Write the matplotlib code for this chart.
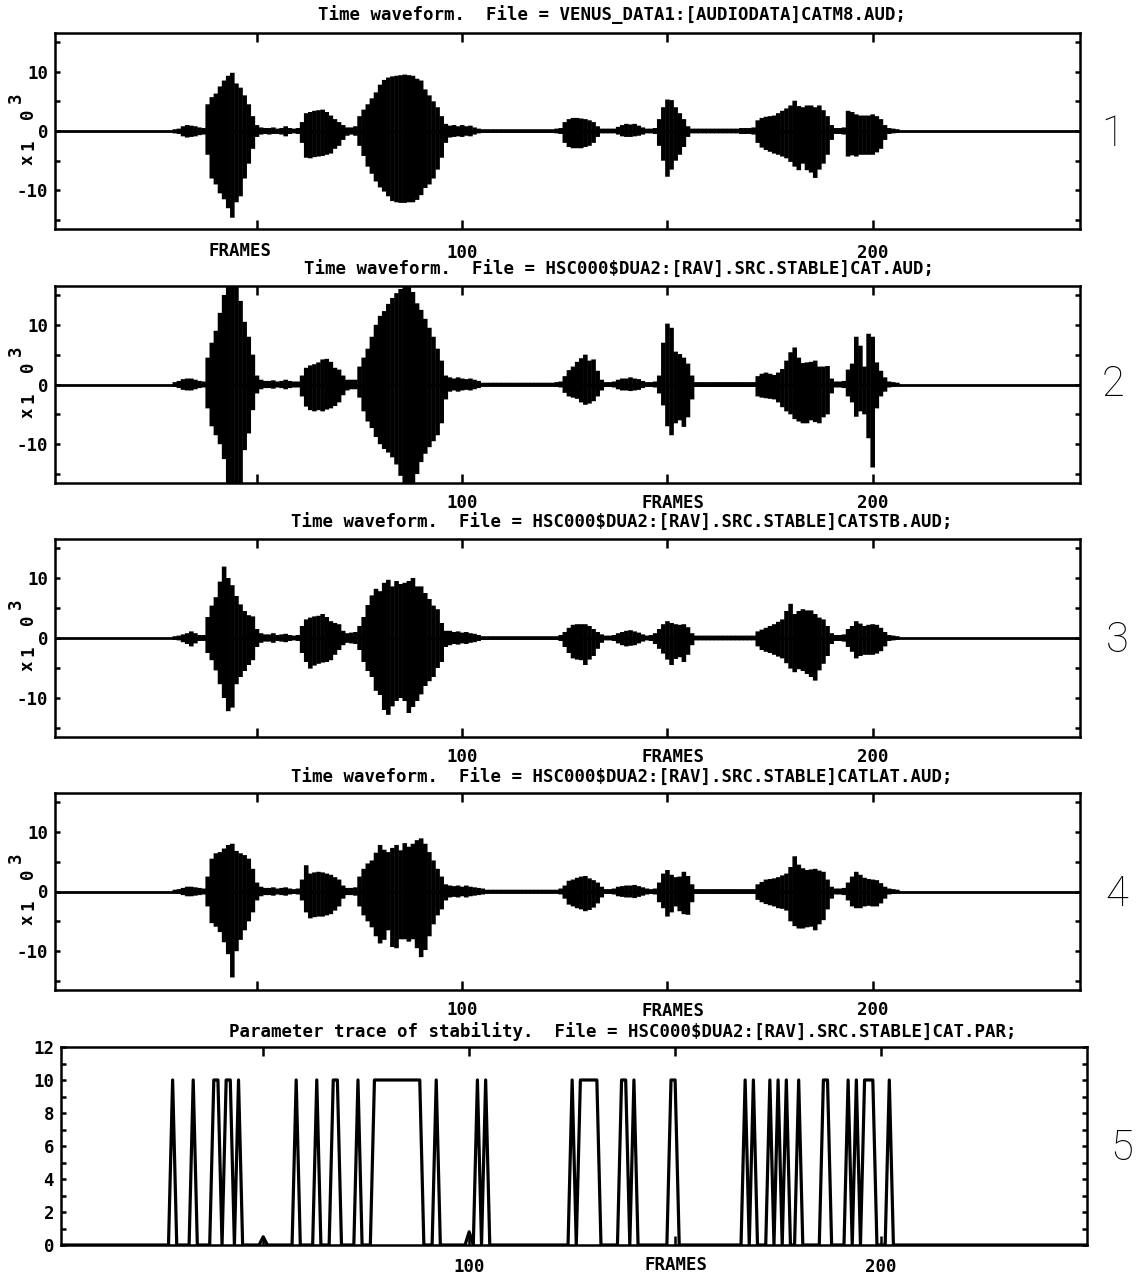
import numpy as np
import matplotlib
matplotlib.use("Agg")
import matplotlib.pyplot as plt

# ---------------- data ----------------
wave_start = 30  # first frame of the stored envelopes (frames 30..206)

p1_upper = [0.3, 0.4, 0.8, 1.0, 0.9, 0.8, 0.6, 0.5, 4.5, 5.7,
            6.3, 7.5, 8.5, 9.3, 9.8, 8.0, 7.3, 6.0, 4.5, 2.5,
            1.0, 0.6, 0.5, 0.5, 0.6, 0.4, 0.5, 0.8, 0.5, 0.4,
            0.5, 1.5, 3.0, 3.2, 3.4, 3.5, 3.6, 3.2, 2.6, 2.0,
            1.5, 1.0, 0.6, 0.6, 0.8, 2.5, 3.6, 4.5, 5.5, 6.5,
            7.8, 8.6, 9.0, 9.2, 9.3, 9.4, 9.5, 9.4, 9.3, 8.8,
            8.5, 7.0, 6.0, 5.0, 4.0, 2.5, 1.2, 0.9, 1.0, 0.8,
            1.0, 0.8, 0.9, 0.6, 0.4, 0.3, 0.3, 0.3, 0.3, 0.3,
            0.3, 0.3, 0.3, 0.3, 0.3, 0.3, 0.3, 0.3, 0.3, 0.3,
            0.3, 0.3, 0.3, 0.4, 0.5, 1.5, 2.0, 2.2, 2.2, 2.1,
            2.0, 1.8, 1.5, 0.8, 0.4, 0.4, 0.4, 0.4, 0.7, 1.0,
            1.2, 1.1, 1.2, 0.9, 0.6, 0.4, 0.4, 0.5, 2.0, 4.0,
            5.3, 5.2, 4.0, 3.0, 2.0, 0.8, 0.4, 0.4, 0.4, 0.4,
            0.4, 0.4, 0.4, 0.4, 0.4, 0.4, 0.4, 0.4, 0.5, 0.5,
            0.5, 0.6, 1.8, 2.2, 2.4, 2.5, 2.6, 3.0, 3.4, 3.8,
            4.3, 5.1, 4.2, 4.0, 4.3, 4.3, 4.0, 4.3, 3.5, 2.5,
            1.0, 0.5, 0.5, 0.6, 3.4, 3.2, 2.8, 2.6, 2.6, 2.6,
            2.8, 2.5, 2.0, 1.0, 0.5, 0.4, 0.3]
p1_lower = [-0.4, -0.5, -0.9, -1.1, -1.0, -0.9, -0.7, -0.6, -4.0, -8.0,
            -9.0, -10.5, -11.5, -13.0, -14.6, -12.0, -11.0, -8.0, -5.5, -3.0,
            -1.0, -0.6, -0.5, -0.6, -0.5, -0.5, -0.6, -0.9, -0.5, -0.4,
            -0.5, -2.0, -4.5, -4.6, -4.4, -4.3, -4.2, -4.0, -3.8, -3.0,
            -2.5, -1.5, -0.8, -0.6, -0.8, -2.5, -4.2, -6.0, -7.2, -8.5,
            -9.5, -10.2, -11.0, -11.8, -12.0, -12.1, -12.1, -12.0, -12.0, -11.6,
            -10.8, -9.6, -9.0, -8.0, -6.5, -4.5, -2.0, -1.1, -1.0, -0.9,
            -1.0, -0.8, -0.9, -0.6, -0.4, -0.3, -0.3, -0.3, -0.3, -0.3,
            -0.3, -0.3, -0.3, -0.3, -0.3, -0.3, -0.3, -0.3, -0.3, -0.3,
            -0.3, -0.3, -0.3, -0.4, -0.5, -2.0, -2.7, -2.9, -2.9, -2.9,
            -2.7, -2.5, -2.0, -1.0, -0.4, -0.4, -0.4, -0.4, -0.6, -0.9,
            -1.0, -1.0, -0.9, -0.8, -0.6, -0.4, -0.4, -0.5, -2.5, -5.0,
            -7.7, -6.5, -5.0, -4.0, -2.7, -1.0, -0.4, -0.4, -0.4, -0.4,
            -0.4, -0.4, -0.4, -0.4, -0.4, -0.4, -0.4, -0.4, -0.5, -0.5,
            -0.5, -0.6, -2.0, -2.8, -3.2, -3.5, -3.8, -4.0, -4.3, -4.6,
            -5.2, -6.0, -6.6, -5.5, -6.6, -7.0, -7.9, -6.5, -5.5, -4.0,
            -1.5, -0.5, -0.5, -0.6, -4.3, -4.1, -4.3, -4.0, -4.0, -4.0,
            -4.0, -3.6, -3.0, -1.5, -0.5, -0.4, -0.3]

p2_upper = [0.4, 0.6, 0.9, 1.0, 1.0, 0.8, 0.6, 0.5, 4.5, 7.0,
            9.0, 12.0, 15.0, 16.5, 16.5, 16.5, 14.0, 10.5, 8.0, 5.0,
            1.5, 0.8, 0.6, 0.6, 0.7, 0.5, 0.6, 0.8, 0.6, 0.5,
            0.5, 1.5, 2.8, 3.2, 3.4, 3.7, 4.2, 4.3, 3.8, 2.8,
            2.5, 1.5, 0.8, 0.8, 0.8, 3.0, 4.5, 6.0, 8.0, 10.0,
            11.5, 12.3, 13.5, 14.5, 15.3, 16.0, 16.5, 16.5, 15.5, 13.6,
            12.5, 11.0, 9.5, 8.0, 6.0, 4.0, 1.5, 1.2, 1.0, 1.2,
            1.0, 0.9, 1.0, 0.8, 0.6, 0.3, 0.3, 0.3, 0.3, 0.3,
            0.3, 0.3, 0.3, 0.3, 0.3, 0.3, 0.3, 0.3, 0.3, 0.3,
            0.3, 0.3, 0.3, 0.4, 0.5, 1.4, 2.4, 3.0, 3.8, 4.4,
            5.0, 4.0, 4.2, 2.3, 0.8, 0.4, 0.4, 0.5, 0.8, 1.0,
            1.0, 1.2, 1.0, 0.9, 0.6, 0.4, 0.4, 0.5, 1.5, 7.0,
            10.2, 9.5, 5.5, 5.1, 4.5, 3.5, 1.5, 0.4, 0.4, 0.4,
            0.4, 0.4, 0.4, 0.4, 0.4, 0.4, 0.4, 0.4, 0.4, 0.4,
            0.4, 0.4, 1.4, 1.8, 2.0, 1.8, 1.6, 2.0, 2.6, 4.0,
            5.4, 6.2, 4.5, 3.6, 3.7, 3.8, 4.0, 3.0, 3.0, 3.1,
            1.0, 0.5, 0.5, 0.6, 2.5, 3.5, 8.0, 6.5, 3.0, 8.5,
            8.0, 3.7, 2.3, 1.2, 0.5, 0.4, 0.3]
p2_lower = [-0.4, -0.6, -0.9, -1.0, -1.0, -0.8, -0.6, -0.5, -4.0, -7.0,
            -8.5, -10.0, -12.5, -16.5, -16.5, -16.5, -16.5, -11.0, -8.2, -4.3,
            -1.5, -0.8, -0.6, -0.6, -0.7, -0.5, -0.6, -0.8, -0.6, -0.5,
            -0.5, -2.0, -3.7, -4.3, -4.5, -4.3, -4.5, -4.2, -4.0, -3.6,
            -3.0, -1.8, -1.0, -0.8, -0.8, -2.2, -4.5, -6.2, -7.3, -8.8,
            -10.0, -10.8, -11.4, -12.2, -13.4, -15.3, -16.5, -16.5, -16.5, -15.0,
            -13.0, -11.6, -10.5, -9.5, -8.5, -6.5, -2.5, -1.2, -1.0, -1.2,
            -1.0, -0.9, -1.0, -0.8, -0.6, -0.3, -0.3, -0.3, -0.3, -0.3,
            -0.3, -0.3, -0.3, -0.3, -0.3, -0.3, -0.3, -0.3, -0.3, -0.3,
            -0.3, -0.3, -0.3, -0.4, -0.5, -1.4, -2.0, -2.2, -2.4, -3.0,
            -3.4, -3.2, -2.8, -2.0, -1.0, -0.4, -0.4, -0.5, -0.8, -1.0,
            -1.0, -1.1, -1.0, -0.9, -0.6, -0.4, -0.4, -0.5, -1.5, -3.5,
            -7.0, -8.5, -6.5, -6.0, -7.1, -5.5, -2.5, -0.4, -0.4, -0.4,
            -0.4, -0.4, -0.4, -0.4, -0.4, -0.4, -0.4, -0.4, -0.4, -0.4,
            -0.4, -0.4, -2.0, -2.2, -2.3, -2.4, -2.5, -3.0, -3.8, -4.5,
            -5.0, -5.8, -6.2, -6.5, -6.5, -6.0, -6.3, -6.5, -5.5, -5.0,
            -1.5, -0.5, -0.5, -0.6, -2.0, -3.0, -5.4, -4.5, -5.0, -9.0,
            -13.9, -4.0, -2.0, -1.2, -0.5, -0.4, -0.3]

p3_upper = [0.3, 0.4, 0.6, 0.8, 1.1, 0.8, 0.5, 0.5, 3.5, 5.4,
            6.8, 9.4, 11.9, 10.0, 8.8, 7.0, 5.6, 4.5, 3.8, 3.6,
            1.5, 0.8, 0.6, 0.6, 0.8, 0.5, 0.6, 0.7, 0.5, 0.4,
            0.5, 2.0, 3.1, 3.4, 3.6, 3.7, 4.0, 3.5, 2.8, 2.5,
            2.3, 1.2, 0.8, 0.9, 1.0, 2.0, 3.5, 5.5, 7.1, 8.2,
            7.8, 9.2, 9.7, 8.6, 9.5, 9.0, 9.2, 9.5, 10.0, 8.6,
            8.6, 7.5, 6.5, 5.4, 4.8, 2.5, 1.2, 1.2, 1.0, 1.1,
            0.9, 1.0, 0.8, 0.7, 0.5, 0.3, 0.3, 0.3, 0.3, 0.3,
            0.3, 0.3, 0.3, 0.3, 0.3, 0.3, 0.3, 0.3, 0.3, 0.3,
            0.3, 0.3, 0.3, 0.3, 0.5, 1.0, 1.7, 2.2, 2.3, 2.3,
            2.3, 2.0, 1.5, 1.0, 0.6, 0.4, 0.4, 0.5, 0.8, 1.0,
            1.2, 1.3, 1.1, 0.9, 0.6, 0.4, 0.5, 0.8, 1.5, 2.3,
            2.8, 2.5, 2.3, 2.2, 2.3, 1.8, 0.8, 0.4, 0.4, 0.4,
            0.4, 0.4, 0.4, 0.4, 0.4, 0.4, 0.4, 0.4, 0.4, 0.4,
            0.4, 0.4, 1.1, 1.4, 1.7, 2.0, 2.3, 2.7, 3.1, 4.5,
            5.7, 4.0, 4.5, 4.8, 4.6, 4.6, 4.0, 3.4, 3.1, 2.0,
            0.8, 0.5, 0.5, 0.6, 1.5, 2.0, 2.8, 2.4, 2.0, 2.2,
            2.3, 2.2, 1.7, 1.0, 0.5, 0.4, 0.3]
p3_lower = [-0.3, -0.4, -0.7, -1.0, -1.4, -0.9, -0.5, -0.5, -2.5, -3.7,
            -5.4, -7.7, -10.0, -12.2, -11.6, -7.7, -6.5, -5.5, -4.5, -3.7,
            -1.5, -0.8, -0.6, -0.6, -0.8, -0.5, -0.6, -0.7, -0.5, -0.4,
            -0.5, -2.5, -4.0, -5.1, -4.6, -4.3, -4.1, -4.0, -3.7, -2.8,
            -2.0, -1.2, -0.8, -0.9, -1.0, -2.0, -4.0, -5.5, -6.5, -8.8,
            -9.5, -12.0, -12.8, -11.4, -10.5, -10.0, -10.5, -12.5, -11.5, -10.5,
            -9.4, -8.0, -7.2, -6.5, -5.0, -4.0, -1.5, -1.2, -1.0, -1.1,
            -0.9, -1.0, -0.8, -0.7, -0.5, -0.3, -0.3, -0.3, -0.3, -0.3,
            -0.3, -0.3, -0.3, -0.3, -0.3, -0.3, -0.3, -0.3, -0.3, -0.3,
            -0.3, -0.3, -0.3, -0.3, -0.5, -1.5, -2.5, -3.4, -3.6, -3.7,
            -4.5, -3.6, -3.0, -1.8, -0.8, -0.4, -0.4, -0.5, -0.9, -1.2,
            -1.4, -1.3, -1.2, -0.9, -0.6, -0.4, -0.5, -1.0, -1.8, -2.6,
            -3.6, -4.5, -3.5, -3.2, -4.0, -2.8, -1.2, -0.4, -0.4, -0.4,
            -0.4, -0.4, -0.4, -0.4, -0.4, -0.4, -0.4, -0.4, -0.4, -0.4,
            -0.4, -0.4, -1.4, -2.0, -2.3, -2.5, -2.8, -3.1, -3.4, -4.2,
            -5.1, -5.7, -5.2, -5.5, -6.0, -6.5, -7.1, -5.4, -4.3, -3.0,
            -1.0, -0.5, -0.5, -0.6, -1.5, -2.3, -3.4, -3.0, -2.8, -2.8,
            -2.8, -2.6, -2.2, -1.4, -0.5, -0.4, -0.3]

p4_upper = [0.3, 0.4, 0.6, 0.8, 0.8, 0.7, 0.6, 0.5, 2.5, 5.5,
            6.4, 6.6, 7.2, 7.8, 8.0, 6.8, 6.4, 6.1, 5.5, 3.8,
            1.5, 0.8, 0.6, 0.6, 0.7, 0.5, 0.6, 0.7, 0.5, 0.4,
            0.5, 2.0, 4.4, 3.0, 3.2, 3.3, 3.2, 3.0, 2.8, 2.4,
            2.0, 1.0, 0.6, 0.6, 0.7, 2.5, 3.8, 4.7, 5.2, 6.5,
            7.8, 7.0, 6.6, 7.3, 7.8, 6.9, 8.1, 7.5, 8.0, 8.6,
            8.9, 8.0, 6.6, 5.2, 3.8, 2.5, 1.2, 1.0, 0.9, 1.0,
            0.8, 1.0, 0.8, 0.7, 0.6, 0.5, 0.3, 0.3, 0.3, 0.3,
            0.3, 0.3, 0.3, 0.3, 0.3, 0.3, 0.3, 0.3, 0.3, 0.3,
            0.3, 0.3, 0.3, 0.3, 0.5, 1.0, 1.8, 2.0, 2.3, 2.5,
            2.6, 2.2, 1.9, 1.5, 0.8, 0.4, 0.4, 0.5, 0.8, 0.9,
            1.0, 1.0, 1.1, 0.9, 0.7, 0.5, 0.4, 0.5, 1.5, 3.0,
            3.6, 2.8, 2.4, 2.5, 3.3, 2.6, 1.2, 0.4, 0.4, 0.4,
            0.4, 0.4, 0.4, 0.4, 0.4, 0.4, 0.4, 0.4, 0.4, 0.4,
            0.4, 0.4, 1.2, 1.6, 2.0, 2.1, 2.2, 2.4, 2.7, 3.0,
            4.1, 5.9, 4.5, 3.9, 3.6, 3.7, 3.8, 3.5, 3.3, 2.0,
            0.8, 0.5, 0.5, 0.6, 1.5, 2.5, 3.3, 2.8, 2.3, 2.1,
            2.0, 1.9, 1.4, 0.8, 0.5, 0.4, 0.3]
p4_lower = [-0.3, -0.4, -0.6, -0.8, -0.8, -0.7, -0.6, -0.5, -2.5, -5.3,
            -5.9, -6.8, -8.5, -10.5, -14.4, -10.0, -8.1, -6.5, -5.0, -3.5,
            -1.5, -0.8, -0.6, -0.6, -0.7, -0.5, -0.6, -0.7, -0.5, -0.4,
            -0.5, -1.5, -3.5, -4.5, -4.3, -4.2, -4.2, -4.0, -3.8, -3.2,
            -2.5, -1.2, -0.6, -0.6, -0.7, -2.5, -4.0, -5.0, -6.0, -7.5,
            -8.7, -8.1, -6.5, -9.3, -9.5, -8.0, -8.0, -8.4, -8.0, -9.5,
            -11.0, -9.8, -7.5, -5.5, -4.0, -3.0, -1.5, -1.0, -0.9, -1.0,
            -0.8, -1.0, -0.8, -0.7, -0.6, -0.5, -0.3, -0.3, -0.3, -0.3,
            -0.3, -0.3, -0.3, -0.3, -0.3, -0.3, -0.3, -0.3, -0.3, -0.3,
            -0.3, -0.3, -0.3, -0.3, -0.5, -1.2, -2.2, -2.5, -2.8, -3.0,
            -3.3, -3.1, -2.7, -2.0, -1.0, -0.4, -0.4, -0.5, -0.8, -0.9,
            -1.0, -1.0, -1.1, -0.9, -0.7, -0.5, -0.4, -0.5, -1.8, -2.8,
            -4.2, -3.5, -2.5, -3.3, -3.8, -3.9, -1.8, -0.4, -0.4, -0.4,
            -0.4, -0.4, -0.4, -0.4, -0.4, -0.4, -0.4, -0.4, -0.4, -0.4,
            -0.4, -0.4, -1.4, -1.8, -2.1, -2.3, -2.5, -2.8, -2.9, -3.2,
            -5.0, -5.8, -6.2, -6.2, -6.0, -5.9, -6.5, -5.5, -4.8, -3.0,
            -1.2, -0.5, -0.5, -0.6, -1.5, -2.5, -2.8, -2.8, -2.5, -2.4,
            -2.5, -2.5, -2.0, -1.2, -0.5, -0.4, -0.3]

# stability parameter: frames where the trace is not zero, and its values there
par_frames = [28, 33, 38, 39, 41, 42, 44, 50, 58, 63, 67, 68, 73,
              77, 78, 79, 80, 81, 82, 83, 84, 85, 86, 87, 88, 92,
              100, 102, 104, 125, 127, 128, 129, 130, 131, 137, 138, 140,
              149, 150, 167, 169, 173, 175, 177, 180, 186, 187, 192, 194,
              196, 197, 198, 202]
par_values = [10, 10, 10, 10, 10, 10, 10, 0.5, 10, 10, 10, 10, 10,
              10, 10, 10, 10, 10, 10, 10, 10, 10, 10, 10, 10, 10,
              0.8, 10, 10, 10, 10, 10, 10, 10, 10, 10, 10, 10,
              10, 10, 10, 10, 10, 10, 10, 10, 10, 10, 10, 10,
              10, 10, 10, 10]
n_frames = 250

titles = [
    "Time waveform.  File = VENUS_DATA1:[AUDIODATA]CATM8.AUD;",
    "Time waveform.  File = HSC000$DUA2:[RAV].SRC.STABLE]CAT.AUD;",
    "Time waveform.  File = HSC000$DUA2:[RAV].SRC.STABLE]CATSTB.AUD;",
    "Time waveform.  File = HSC000$DUA2:[RAV].SRC.STABLE]CATLAT.AUD;",
    "Parameter trace of stability.  File = HSC000$DUA2:[RAV].SRC.STABLE]CAT.PAR;",
]
panel_numbers = ["1", "2", "3", "4", "5"]
x_tick_values = [50, 100, 150, 200]
x_tick_labels = ["", "100", "", "200"]
x_axis_label = "FRAMES"

# ---------------- layout ----------------
W, H, DPI = 1141, 1281, 100
fig = plt.figure(figsize=(W / DPI, H / DPI), dpi=DPI)
fig.patch.set_facecolor("white")

FONT = ["DejaVu Sans Mono", "DejaVu Sans"]
BIGFONT = ["Roboto", "DejaVu Sans"]
FS = 12.5


def add_ax(l, t, r, b):
    return fig.add_axes([l / W, 1 - b / H, (r - l) / W, (b - t) / H])


def ftext(x, y, s, **kw):
    kw.setdefault("family", FONT)
    kw.setdefault("fontweight", "bold")
    kw.setdefault("fontsize", FS)
    return fig.text(x / W, 1 - y / H, s, **kw)


def style_axes(ax, xpad=8):
    for sp in ax.spines.values():
        sp.set_linewidth(1.8)
    ax.tick_params(axis="both", which="both", direction="in",
                   top=True, right=True, colors="black")
    ax.tick_params(axis="x", which="major", length=6.5, width=1.8, pad=xpad)
    ax.tick_params(axis="y", which="both", length=3.5, width=1.8, pad=5)
    for lab in ax.get_xticklabels() + ax.get_yticklabels():
        lab.set_family(FONT)
        lab.set_fontweight("bold")
        lab.set_fontsize(FS)


wave_boxes = [(55, 33, 1080, 229), (55, 286, 1080, 483),
              (55, 539, 1080, 737), (55, 793, 1080, 990)]
wave_upper = [p1_upper, p2_upper, p3_upper, p4_upper]
wave_lower = [p1_lower, p2_lower, p3_lower, p4_lower]
xpads = [11, 8, 8, 8]
title_pos = [(612, 15), (619, 270), (622, 523), (622, 778), (623, 1032)]
frames_label_pos = [(240, 251), (673, 503), (673, 757), (673, 1011), (676, 1265)]
number_pos = [(1113, 134), (1113, 385), (1117, 640), (1117, 895), (1122, 1148)]

for i in range(4):
    l, t, r, b = wave_boxes[i]
    ax = add_ax(l, t, r, b)
    up = np.array(wave_upper[i])
    lo = np.array(wave_lower[i])
    fr = np.arange(wave_start, wave_start + len(up))
    ax.axhline(0, color="black", lw=2.0, zorder=2)
    ax.vlines(fr, lo, up, color="black", lw=3.3, zorder=3, snap=False)
    ax.set_xlim(0.8, 250.5)
    ax.set_ylim(-16.5, 16.5)
    ax.set_xticks(x_tick_values)
    ax.set_xticklabels(x_tick_labels)
    ax.set_yticks([-10, 0, 10])
    ax.set_yticks([-15, -5, 5, 15], minor=True)
    ax.set_yticklabels(["-10", "0", "10"])
    style_axes(ax, xpads[i])
    # rotated exponent label  x1 0 ^3
    dy = t - 33
    for ch, (x, y) in zip(["x", "1", "0", "3"],
                          [(28, 160 + dy), (28, 145 + dy), (28, 114 + dy), (16, 98 + dy)]):
        ftext(x, y, ch, rotation=90, ha="center", va="center", fontsize=FS)

# parameter panel
ax5 = add_ax(61, 1047, 1087, 1245)
par = np.zeros(n_frames + 1)
par[np.array(par_frames)] = par_values
ax5.plot(np.arange(n_frames + 1), par, color="black", lw=2.3, zorder=3)
ax5.set_xlim(0.9, 250)
ax5.set_ylim(0, 12)
ax5.set_xticks(x_tick_values)
ax5.set_xticklabels(x_tick_labels)
ax5.set_yticks(range(0, 13, 2))
ax5.set_yticks(range(1, 12, 2), minor=True)
ax5.set_yticklabels([str(v) for v in range(0, 13, 2)])
style_axes(ax5, 9)

for i in range(5):
    x, y = title_pos[i]
    ftext(x, y, titles[i], ha="center", va="center")
    x, y = frames_label_pos[i]
    ftext(x, y, x_axis_label, ha="center", va="center")
    x, y = number_pos[i]
    ftext(x, y, panel_numbers[i], ha="center", va="center",
          family=BIGFONT, fontweight="light", fontsize=30)

fig.savefig("out.png", dpi=DPI, facecolor="white")
